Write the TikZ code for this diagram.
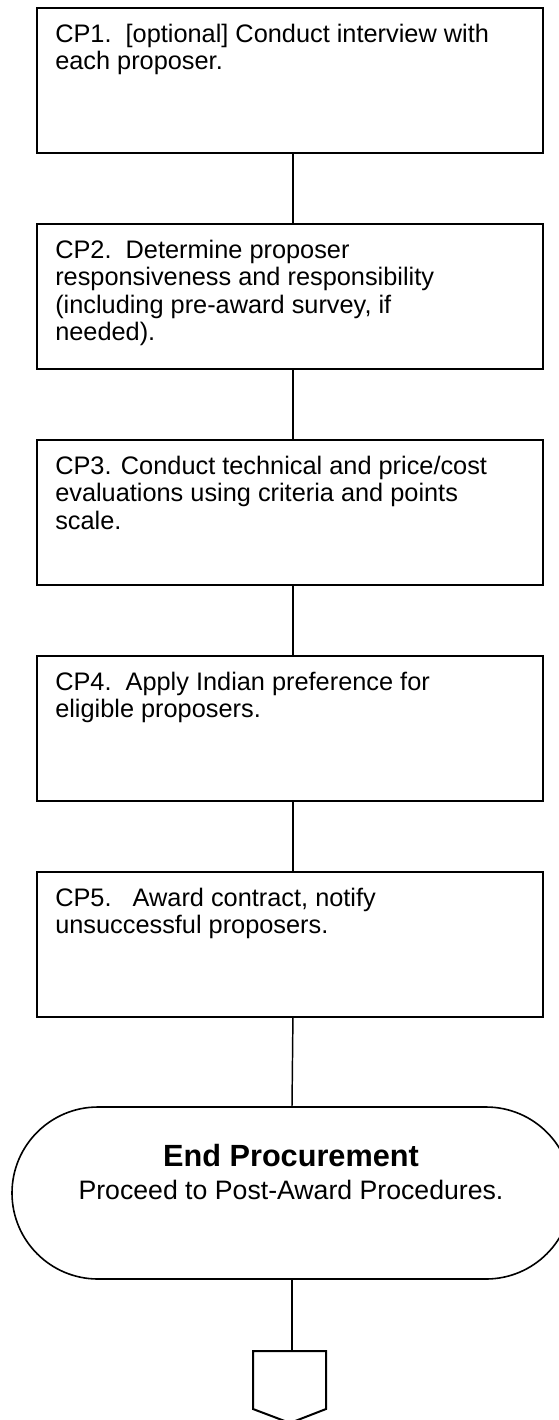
\documentclass[tikz,border=0pt]{standalone}
\usepackage{fontspec}
\setmainfont{Liberation Sans}
\usetikzlibrary{shapes.misc}
\begin{document}
\begin{tikzpicture}[x=0.75pt,y=-0.75pt,
  stepbox/.style={draw, line width=1.4pt, minimum width=379.5pt, minimum height=108.75pt, inner sep=0pt, anchor=north west},
  steptext/.style={anchor=north west, inner sep=0pt, align=left, font=\fontsize{19pt}{20.5pt}\selectfont},
  conn/.style={line width=1.1pt},
  endbox/.style={draw, line width=1.2pt, rounded rectangle, rounded rectangle arc length=180, minimum width=420pt, minimum height=129pt, inner sep=0pt},
  pagecon/.style={line width=1.5pt, line join=miter}]
\useasboundingbox (0,0) rectangle (559,1420);

\node[stepbox] (b1) at (36,7) {};
\node[stepbox] (b2) at (36,223) {};
\node[stepbox] (b3) at (36,439) {};
\node[stepbox] (b4) at (36,655) {};
\node[stepbox] (b5) at (36,871) {};

\node[steptext] (t1) at (55,24) {CP1.\ \ [optional] Conduct interview with\\each proposer.};
\node[steptext] (t2) at (55,240) {CP2.\ \ Determine proposer\\responsiveness and responsibility\\(including pre-award survey, if\\needed).};
\node[steptext] (t3) at (55,456) {CP3. Conduct technical and price/cost\\evaluations using criteria and points\\scale.};
\node[steptext] (t4) at (55,672) {CP4.\ \ Apply Indian preference for\\eligible proposers.};
\node[steptext] (t5) at (55,888) {CP5.\ \ \ Award contract, notify\\unsuccessful proposers.};

\node[endbox] (end) at (292,1193) {};
\node[anchor=north, inner sep=0pt, align=center, font=\fontsize{20pt}{25pt}\selectfont] (endtext) at (291,1144)
  {{\fontsize{23pt}{25pt}\selectfont\bfseries End Procurement}\\Proceed to Post-Award Procedures.};

\coordinate (p1) at (253,1351);
\coordinate (p2) at (326,1351);
\coordinate (p3) at (326,1409);
\coordinate (p4) at (290,1423);
\coordinate (p5) at (253,1409);
\coordinate (ptop) at (292,1351);
\draw[pagecon] (p1) -- (p2) -- (p3) -- (p4) -- (p5) -- cycle;

\draw[conn] ([xshift=2.25pt]b1.south) -- ([xshift=2.25pt]b2.north);
\draw[conn] ([xshift=2.25pt]b2.south) -- ([xshift=2.25pt]b3.north);
\draw[conn] ([xshift=2.25pt]b3.south) -- ([xshift=2.25pt]b4.north);
\draw[conn] ([xshift=2.25pt]b4.south) -- ([xshift=2.25pt]b5.north);
\draw[conn] ([xshift=2.25pt]b5.south) -- (end.north);
\draw[conn] (end.south) -- (ptop);
\end{tikzpicture}
\end{document}
